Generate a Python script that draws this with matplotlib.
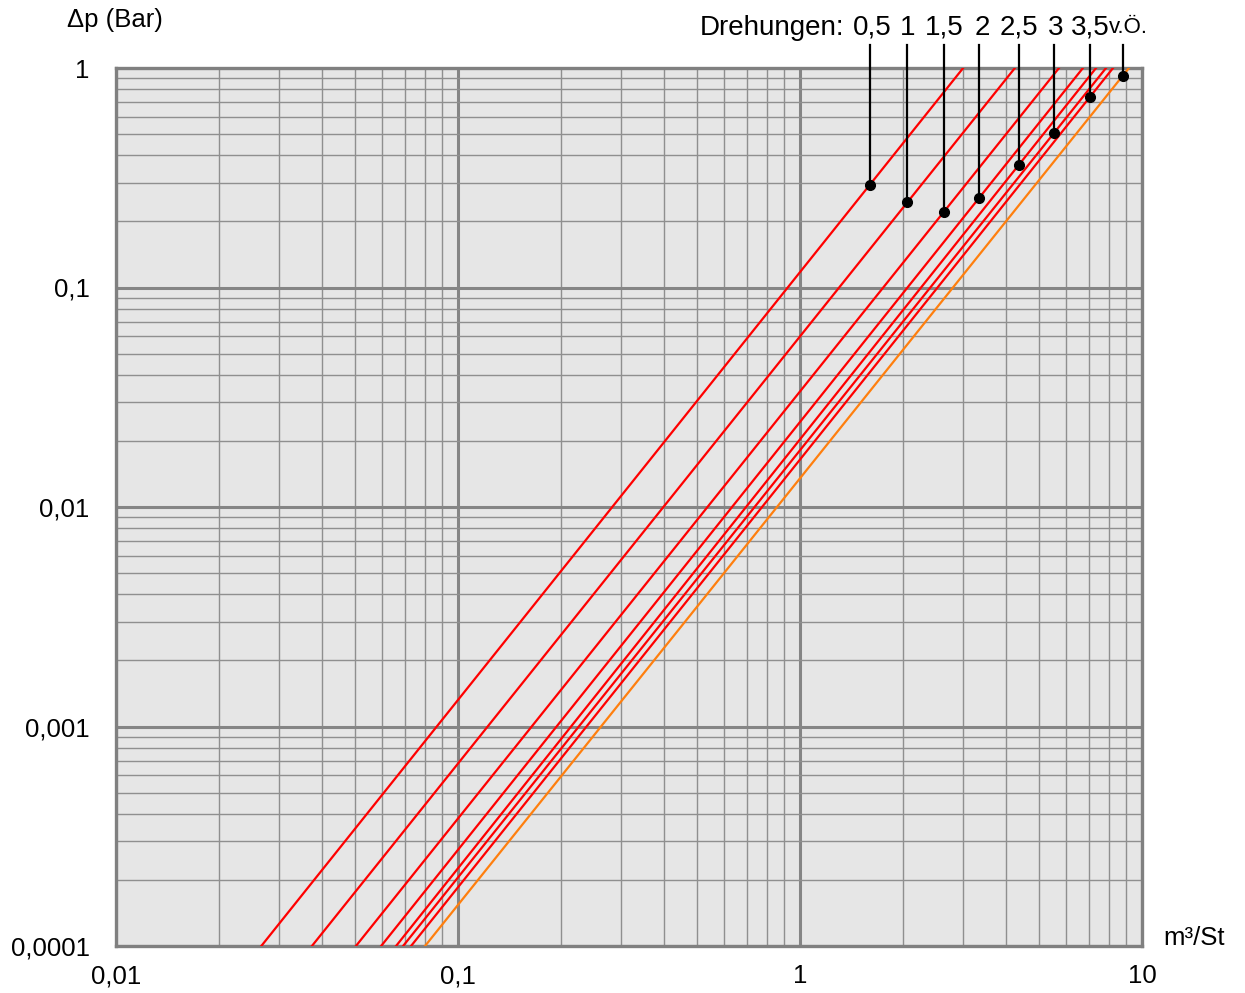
import numpy as np
import matplotlib
matplotlib.use("Agg")
import matplotlib.pyplot as plt
from matplotlib.ticker import FixedLocator, FixedFormatter, LogLocator, NullFormatter

plt.rcParams["font.family"] = ["Liberation Sans", "DejaVu Sans"]

# Drehungen (valve turns) and the flow at which each curve hits 0.0001 and 1 bar
turns = ["0,5", "1", "1,5", "2", "2,5", "3", "3,5", "v.Ö."]
q_at_min = [0.0266, 0.0374, 0.0503, 0.0596, 0.0659, 0.0691, 0.0729, 0.0801]
q_at_max = [3.00, 4.25, 5.72, 6.72, 7.34, 7.85, 8.23, 9.16]
line_colors = ["#ff0000"] * 7 + ["#ff7f0e"]

# flow value where the marker dot of each curve sits
dot_q = [1.60, 2.06, 2.63, 3.34, 4.36, 5.54, 7.05, 8.78]

x_ticks = [0.01, 0.1, 1, 10]
x_labels = ["0,01", "0,1", "1", "10"]
y_ticks = [0.0001, 0.001, 0.01, 0.1, 1]
y_labels = ["0,0001", "0,001", "0,01", "0,1", "1"]

fig = plt.figure(figsize=(12.45, 9.93), dpi=100)
ax = fig.add_axes([116 / 1245, 1 - 946 / 993, (1142 - 116) / 1245, (946 - 68) / 993])
ax.set_facecolor("#e6e6e6")
ax.set_xscale("log")
ax.set_yscale("log")
ax.set_xlim(0.01, 10)
ax.set_ylim(0.0001, 1)

# grid
ax.xaxis.set_major_locator(FixedLocator(x_ticks))
ax.xaxis.set_major_formatter(FixedFormatter(x_labels))
ax.yaxis.set_major_locator(FixedLocator(y_ticks))
ax.yaxis.set_major_formatter(FixedFormatter(y_labels))
ax.xaxis.set_minor_locator(LogLocator(base=10, subs=np.arange(2, 10), numticks=20))
ax.yaxis.set_minor_locator(LogLocator(base=10, subs=np.arange(2, 10), numticks=20))
ax.xaxis.set_minor_formatter(NullFormatter())
ax.yaxis.set_minor_formatter(NullFormatter())
ax.grid(which="major", color="#858585", linewidth=2.2, zorder=1)
ax.grid(which="minor", color="#8f8f8f", linewidth=1.0, zorder=1)
ax.set_axisbelow(True)
ax.tick_params(which="both", length=0)
ax.tick_params(axis="y", pad=19, labelsize=18.5)
ax.tick_params(axis="x", pad=13, labelsize=18.5)
for sp in ax.spines.values():
    sp.set_color("#808080")
    sp.set_linewidth(2.4)

# curves
for qa, qb, c in zip(q_at_min, q_at_max, line_colors):
    ax.plot([qa, qb], [0.0001, 1], color=c, linewidth=1.6, zorder=3)

# marker dots + leader lines + labels
xt = ax.get_xaxis_transform()
label_dx = [2, 0, 1, 3, 0, 1, 0, 6]
label_size = [20, 20, 20, 20, 20, 20, 20, 16]
for name, qa, qb, q, dx, fs in zip(turns, q_at_min, q_at_max, dot_q, label_dx, label_size):
    frac = (np.log10(q) - np.log10(qa)) / (np.log10(qb) - np.log10(qa))
    dp = 10 ** (-4 + 4 * frac)
    ax.plot([q, q], [dp, 1.27], color="black", linewidth=1.6, zorder=4, clip_on=False)
    ax.plot(q, dp, "o", color="black", markersize=7, zorder=5, clip_on=False)
    ax.annotate(name, xy=(q, 1.0456), xycoords=xt, xytext=(dx, 0),
                textcoords="offset pixels", ha="center", va="center", fontsize=fs)

fig.text(844 / 1245, 1 - 28 / 993, "Drehungen:", ha="right", va="center", fontsize=20)
fig.text(67 / 1245, 1 - 20 / 993, "Δp (Bar)", ha="left", va="center", fontsize=18.5)
fig.text(1163 / 1245, 1 - 938 / 993, "m³/St", ha="left", va="center", fontsize=18.5)

fig.savefig("out.png", dpi=100)
